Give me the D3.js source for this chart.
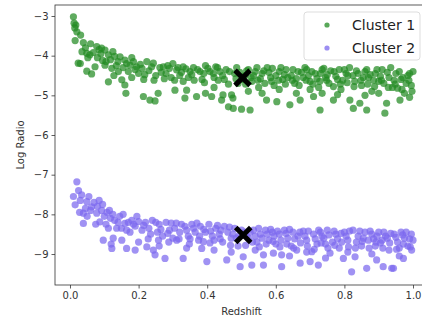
<!DOCTYPE html>
<html>
<head>
<meta charset="utf-8">
<script src="https://cdn.jsdelivr.net/npm/d3@7"></script>
<style>
  html, body { margin: 0; padding: 0; background: #fff; }
  svg { display: block; font-family: "DejaVu Sans", sans-serif; }
</style>
</head>
<body>
<div id="chart"></div>
<script>
// cluster 1 points [redshift, log radio]
const cluster1 = [
  [0.010,-3.02],[0.012,-3.18],[0.017,-3.23],[0.014,-3.30],[0.020,-3.40],[0.031,-3.48],[0.015,-3.62],[0.039,-3.67],
  [0.045,-3.80],[0.049,-3.94],[0.058,-3.98],[0.052,-4.05],[0.024,-4.19],[0.030,-4.20],[0.049,-4.39],[0.063,-4.46],
  [0.073,-4.28],[0.078,-3.77],[0.085,-3.85],[0.092,-3.81],[0.102,-3.86],[0.068,-3.92],[0.080,-4.05],[0.112,-3.98],
  [0.102,-4.24],[0.095,-4.12],[0.112,-4.66],[0.122,-4.32],[0.118,-4.10],[0.130,-4.02],[0.146,-4.03],[0.160,-4.11],
  [0.141,-4.40],[0.151,-4.61],[0.160,-4.74],[0.163,-4.95],[0.135,-4.25],[0.155,-4.30],[0.175,-4.24],[0.194,-4.28],
  [0.185,-4.15],[0.170,-4.40],[0.200,-4.45],[0.214,-5.03],[0.233,-5.12],[0.248,-5.14],[0.224,-4.15],[0.243,-4.19],
  [0.035,-3.90],[0.060,-3.70],[0.090,-3.95],[0.105,-4.15],[0.125,-3.90],[0.140,-4.15],[0.165,-4.20],[0.180,-4.05],
  [0.190,-4.35],[0.128,-4.50],[0.180,-4.55],
  [0.210,-4.32],[0.230,-4.38],[0.257,-4.95],[0.250,-4.50],[0.262,-4.30],[0.272,-4.28],[0.290,-4.32],[0.311,-4.36],
  [0.280,-4.45],[0.300,-4.20],[0.306,-4.87],[0.320,-4.50],[0.330,-4.28],[0.340,-4.87],[0.335,-5.07],[0.350,-4.40],
  [0.345,-4.55],[0.369,-5.03],[0.360,-4.30],[0.379,-4.40],[0.385,-4.60],[0.395,-4.25],[0.408,-4.40],[0.413,-5.03],
  [0.420,-4.55],[0.430,-4.30],[0.437,-4.40],[0.442,-5.12],[0.446,-4.99],[0.450,-4.60],[0.455,-4.35],[0.462,-5.29],
  [0.471,-4.99],[0.475,-5.07],[0.476,-5.33],[0.480,-4.45],[0.486,-4.30],[0.490,-4.70],[0.500,-5.35],[0.510,-4.50],
  [0.520,-4.35],[0.525,-5.37],[0.530,-4.65],[0.540,-4.40],[0.550,-4.80],[0.560,-4.45],[0.573,-5.12],[0.575,-4.30],
  [0.585,-4.55],[0.595,-4.75],[0.603,-5.16],[0.610,-4.40],[0.620,-4.60],[0.630,-4.35],[0.641,-5.24],[0.645,-4.50],
  [0.655,-4.70],[0.665,-4.40],[0.671,-5.12],[0.680,-4.55],[0.690,-4.35],[0.700,-4.65],[0.710,-5.03],[0.715,-4.45],
  [0.725,-4.80],[0.729,-5.37],[0.735,-4.35],[0.745,-4.55],[0.755,-4.70],[0.768,-5.12],[0.770,-4.40],[0.780,-4.60],
  [0.790,-4.85],[0.800,-4.35],[0.810,-4.50],[0.816,-5.12],[0.826,-5.33],[0.830,-4.65],[0.840,-4.45],[0.845,-5.20],
  [0.850,-4.75],[0.860,-4.40],[0.865,-5.37],[0.870,-4.55],[0.880,-4.90],[0.890,-4.45],[0.900,-4.65],[0.910,-4.35],
  [0.918,-5.45],[0.923,-5.20],[0.930,-4.55],[0.940,-4.80],[0.950,-4.45],[0.962,-5.12],[0.965,-4.60],[0.975,-4.95],
  [0.985,-4.50],[0.995,-4.75],[1.000,-4.40],
  [0.205,-4.22],[0.218,-4.48],[0.238,-4.28],[0.266,-4.42],[0.285,-4.25],[0.295,-4.55],[0.315,-4.30],[0.325,-4.42],
  [0.338,-4.33],[0.355,-4.48],[0.372,-4.35],[0.390,-4.45],[0.402,-4.32],[0.418,-4.45],[0.425,-4.28],[0.445,-4.50],
  [0.465,-4.40],[0.495,-4.42],[0.505,-4.60],[0.515,-4.38],[0.535,-4.50],[0.545,-4.30],[0.555,-4.58],[0.565,-4.38],
  [0.580,-4.42],[0.590,-4.32],[0.600,-4.50],[0.615,-4.30],[0.625,-4.48],[0.635,-4.55],[0.650,-4.35],[0.660,-4.58],
  [0.675,-4.42],[0.685,-4.30],[0.695,-4.50],[0.705,-4.40],[0.720,-4.58],[0.730,-4.45],[0.740,-4.32],[0.750,-4.48],
  [0.760,-4.38],[0.775,-4.52],[0.785,-4.35],[0.795,-4.62],[0.805,-4.45],[0.815,-4.30],[0.825,-4.50],[0.835,-4.38],
  [0.855,-4.55],[0.865,-4.35],[0.875,-4.48],[0.885,-4.62],[0.895,-4.35],[0.905,-4.52],[0.915,-4.70],[0.925,-4.42],
  [0.935,-4.30],[0.945,-4.62],[0.955,-4.82],[0.960,-4.40],[0.970,-4.55],[0.980,-4.70],[0.990,-4.45],[0.997,-4.90],
  [0.420,-4.80],[0.395,-4.95],[0.520,-4.90],[0.560,-4.95],[0.610,-4.85],[0.660,-4.95],[0.700,-4.85],[0.735,-4.95],
  [0.780,-4.98],[0.860,-5.00],[0.900,-4.95],[0.990,-5.05],
  [0.512,-4.72],[0.528,-4.55],[0.548,-4.62],[0.568,-4.70],[0.588,-4.65],[0.608,-4.62],[0.628,-4.72],[0.648,-4.62],
  [0.668,-4.75],[0.688,-4.62],[0.708,-4.72],[0.728,-4.65],[0.748,-4.62],[0.768,-4.78],[0.788,-4.72],[0.808,-4.68],
  [0.828,-4.78],[0.848,-4.62],[0.868,-4.72],[0.888,-4.78],[0.908,-4.62],[0.928,-4.80],[0.948,-4.72],[0.968,-4.85],
  [0.988,-4.62],[0.215,-4.60],[0.245,-4.62],[0.275,-4.58],[0.305,-4.62],[0.330,-4.65],[0.362,-4.62],[0.392,-4.68],
  [0.432,-4.62],[0.462,-4.72],[0.484,-4.58]
];

// cluster 2 points [redshift, log radio]
const cluster2 = [
  [0.020,-7.18],[0.010,-7.55],[0.015,-7.76],[0.034,-7.51],[0.049,-7.68],[0.063,-7.81],[0.039,-7.97],[0.039,-8.23],
  [0.025,-7.40],[0.030,-7.65],[0.045,-7.85],[0.055,-7.55],[0.070,-7.70],[0.078,-7.97],[0.087,-8.19],[0.080,-7.80],
  [0.092,-7.90],[0.100,-8.05],[0.097,-8.65],[0.126,-8.60],[0.151,-8.65],[0.122,-8.86],[0.165,-8.86],[0.190,-8.90],
  [0.112,-8.35],[0.136,-8.35],[0.160,-8.23],[0.108,-7.95],[0.118,-8.10],[0.130,-8.15],[0.145,-8.05],[0.150,-8.35],
  [0.170,-8.20],[0.180,-8.15],[0.175,-8.45],[0.190,-8.30],[0.200,-8.18],[0.210,-8.40],[0.220,-8.20],[0.224,-8.82],
  [0.028,-7.95],[0.050,-8.05],[0.060,-7.90],[0.075,-8.25],[0.085,-7.65],[0.095,-7.75],[0.105,-8.25],[0.115,-7.90],
  [0.125,-8.00],[0.140,-8.20],[0.155,-8.00],[0.165,-8.40],[0.185,-8.25],[0.195,-8.05],
  [0.230,-8.35],[0.243,-8.90],[0.240,-8.15],[0.248,-9.02],[0.255,-8.45],[0.260,-8.25],[0.277,-9.11],[0.270,-8.55],
  [0.280,-8.20],[0.290,-8.40],[0.300,-8.60],[0.311,-8.65],[0.310,-8.22],[0.320,-8.45],[0.330,-9.11],[0.335,-8.30],
  [0.345,-8.55],[0.355,-8.25],[0.365,-8.45],[0.375,-8.65],[0.384,-8.86],[0.389,-8.69],[0.380,-8.30],[0.399,-9.19],
  [0.395,-8.45],[0.405,-8.25],[0.415,-8.55],[0.425,-8.35],[0.435,-8.50],[0.445,-8.70],[0.450,-8.30],[0.457,-9.15],
  [0.460,-8.45],[0.470,-8.60],[0.480,-8.35],[0.490,-8.80],[0.496,-9.32],[0.505,-9.07],[0.510,-8.45],[0.520,-8.60],
  [0.530,-9.28],[0.535,-8.40],[0.545,-8.70],[0.555,-8.50],[0.564,-9.28],[0.564,-9.02],[0.570,-8.40],[0.580,-8.65],
  [0.593,-8.98],[0.590,-8.45],[0.600,-8.75],[0.610,-8.50],[0.617,-9.32],[0.617,-9.02],[0.625,-8.40],[0.635,-8.60],
  [0.645,-8.80],[0.650,-8.45],[0.661,-8.90],[0.665,-8.55],[0.671,-9.23],[0.680,-8.42],[0.690,-8.65],[0.700,-9.19],
  [0.705,-8.94],[0.710,-8.50],[0.720,-8.75],[0.724,-9.28],[0.730,-8.45],[0.740,-8.60],[0.750,-8.40],[0.758,-8.98],
  [0.765,-8.70],[0.775,-8.50],[0.785,-8.85],[0.797,-9.11],[0.800,-8.45],[0.810,-8.65],[0.821,-9.45],[0.831,-9.07],
  [0.825,-8.40],[0.840,-8.55],[0.850,-8.80],[0.860,-8.45],[0.865,-9.36],[0.870,-8.65],[0.880,-8.50],[0.894,-9.15],
  [0.890,-8.80],[0.900,-8.45],[0.913,-9.32],[0.910,-8.65],[0.920,-8.55],[0.930,-8.90],[0.938,-9.36],[0.943,-9.36],
  [0.945,-8.50],[0.955,-8.70],[0.965,-8.45],[0.972,-9.11],[0.975,-8.60],[0.985,-8.80],[0.996,-8.90],[0.995,-8.50],
  [1.000,-8.65],
  [0.215,-8.28],[0.235,-8.50],[0.250,-8.20],[0.265,-8.38],[0.285,-8.48],[0.295,-8.22],[0.305,-8.35],[0.325,-8.25],
  [0.340,-8.40],[0.350,-8.62],[0.360,-8.35],[0.370,-8.22],[0.390,-8.38],[0.410,-8.42],[0.420,-8.65],[0.430,-8.28],
  [0.440,-8.40],[0.465,-8.32],[0.475,-8.50],[0.485,-8.60],[0.500,-8.40],[0.515,-8.55],[0.525,-8.45],[0.540,-8.55],
  [0.550,-8.35],[0.560,-8.60],[0.575,-8.50],[0.585,-8.38],[0.595,-8.55],[0.605,-8.42],[0.615,-8.65],[0.630,-8.48],
  [0.640,-8.38],[0.655,-8.62],[0.670,-8.45],[0.685,-8.55],[0.695,-8.42],[0.715,-8.62],[0.725,-8.40],[0.735,-8.55],
  [0.745,-8.75],[0.755,-8.52],[0.770,-8.42],[0.780,-8.62],[0.790,-8.48],[0.805,-8.55],[0.815,-8.42],[0.835,-8.70],
  [0.845,-8.42],[0.855,-8.60],[0.875,-8.42],[0.885,-8.62],[0.895,-8.55],[0.905,-8.72],[0.915,-8.45],[0.925,-8.60],
  [0.935,-8.48],[0.950,-8.58],[0.960,-8.85],[0.970,-8.52],[0.980,-8.45],[0.990,-8.62],
  [0.120,-8.75],[0.200,-8.70],[0.260,-8.80],[0.340,-8.85],[0.420,-8.90],[0.470,-8.95],[0.540,-8.90],[0.640,-9.05],
  [0.690,-8.95],[0.745,-9.10],[0.810,-8.95],[0.880,-9.00],[0.960,-9.05],
  [0.512,-8.78],[0.532,-8.70],[0.552,-8.82],[0.572,-8.75],[0.592,-8.68],[0.612,-8.82],[0.632,-8.75],[0.652,-8.85],
  [0.672,-8.72],[0.692,-8.80],[0.712,-8.88],[0.732,-8.72],[0.752,-8.85],[0.772,-8.78],[0.792,-8.70],[0.812,-8.82],
  [0.832,-8.85],[0.852,-8.68],[0.872,-8.85],[0.892,-8.70],[0.912,-8.85],[0.932,-8.72],[0.952,-8.88],[0.972,-8.75],
  [0.992,-8.82],[0.228,-8.62],[0.258,-8.65],[0.288,-8.70],[0.318,-8.62],[0.348,-8.75],[0.378,-8.55],[0.408,-8.72],
  [0.438,-8.62],[0.468,-8.78],[0.492,-8.55]
];

// cluster centres (black crosses)
const centres = [[0.503,-4.56],[0.505,-8.52]];

const seriesNames = ['Cluster 1', 'Cluster 2'];
const seriesColors = ['#228b22', '#7b68ee'];
const xTicks = [0.0, 0.2, 0.4, 0.6, 0.8, 1.0];
const yTicks = [-3, -4, -5, -6, -7, -8, -9];

const config = {
  totalWidth: 422,
  totalHeight: 322,
  margin: {top: 5, right: -6, bottom: 37, left: 55},
  radius: 3.6
};
config.width = config.totalWidth - config.margin.left - config.margin.right;
config.height = config.totalHeight - config.margin.top - config.margin.bottom;

const xScale = d3.scaleLinear().domain([-0.0437, 1.0437]).range([0, config.width]);
const yScale = d3.scaleLinear().domain([-9.781, -2.723]).range([config.height, 0]);

const svg = d3.select('#chart').append('svg')
  .attr('width', config.totalWidth)
  .attr('height', config.totalHeight);

const g = svg.append('g')
  .attr('transform', `translate(${config.margin.left},${config.margin.top})`);

function drawPoints(data, color) {
  g.append('g').selectAll('circle')
    .data(data)
    .enter()
    .append('circle')
    .attr('cx', d => xScale(d[0]))
    .attr('cy', d => yScale(d[1]))
    .attr('r', config.radius)
    .attr('fill', color)
    .attr('fill-opacity', 0.72);
}

function drawCentres() {
  const s = 7.5;
  const cg = g.append('g');
  centres.forEach(c => {
    const cx = xScale(c[0]), cy = yScale(c[1]);
    cg.append('path')
      .attr('d', `M${cx - s},${cy - s}L${cx + s},${cy + s}M${cx - s},${cy + s}L${cx + s},${cy - s}`)
      .attr('stroke', '#000')
      .attr('stroke-width', 5);
  });
}

function drawAxes() {
  const xAxis = g.append('g')
    .attr('transform', `translate(0,${config.height})`)
    .call(d3.axisBottom(xScale).tickValues(xTicks).tickFormat(d3.format('.1f')).tickSize(3.5).tickPadding(3));
  const yAxis = g.append('g')
    .call(d3.axisLeft(yScale).tickValues(yTicks).tickFormat(d3.format('d')).tickSize(3.5).tickPadding(3));
  [xAxis, yAxis].forEach(a => {
    a.select('.domain').remove();
    a.selectAll('text').attr('font-size', 10).attr('fill', '#333').attr('font-family', '"DejaVu Sans", sans-serif');
    a.selectAll('line').attr('stroke', '#333').attr('stroke-width', 0.8);
  });

  // spines
  g.append('rect')
    .attr('x', 0).attr('y', 0)
    .attr('width', config.width).attr('height', config.height)
    .attr('fill', 'none')
    .attr('stroke', '#333')
    .attr('stroke-width', 0.8);

  svg.append('text')
    .attr('x', config.margin.left + config.width / 2)
    .attr('y', 315)
    .attr('text-anchor', 'middle')
    .attr('font-size', 10)
    .attr('fill', '#333')
    .text('Redshift');

  svg.append('text')
    .attr('transform', `translate(24,${config.margin.top + config.height / 2}) rotate(-90)`)
    .attr('text-anchor', 'middle')
    .attr('font-size', 10)
    .attr('fill', '#333')
    .text('Log Radio');
}

function drawLegend() {
  const lg = svg.append('g').attr('transform', 'translate(304,12)');
  lg.append('rect')
    .attr('width', 116).attr('height', 48)
    .attr('rx', 3)
    .attr('fill', '#fff')
    .attr('fill-opacity', 0.8)
    .attr('stroke', '#ddd');
  seriesNames.forEach((name, i) => {
    lg.append('circle')
      .attr('cx', 23).attr('cy', 13 + i * 23)
      .attr('r', 2.6)
      .attr('fill', seriesColors[i])
      .attr('fill-opacity', 0.75);
    lg.append('text')
      .attr('x', 48).attr('y', 18 + i * 23)
      .attr('font-size', 14)
      .attr('fill', '#222')
      .text(name);
  });
}

drawPoints(cluster1, seriesColors[0]);
drawPoints(cluster2, seriesColors[1]);
drawCentres();
drawAxes();
drawLegend();
</script>
</body>
</html>
